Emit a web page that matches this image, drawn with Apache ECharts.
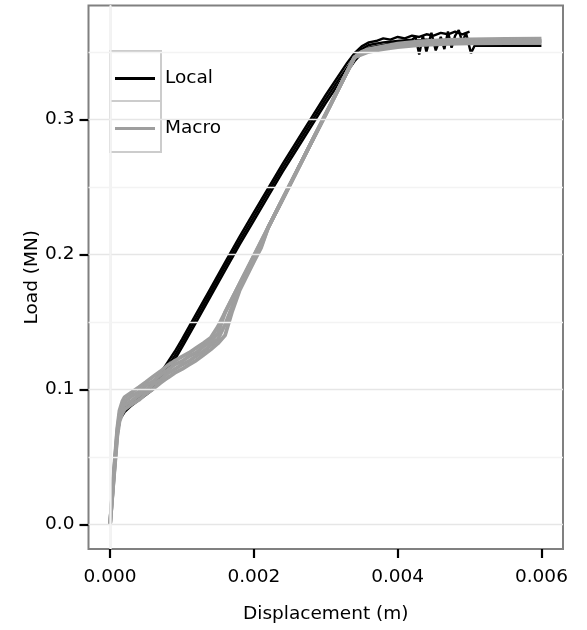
<!DOCTYPE html>
<html>
<head>
<meta charset="utf-8">
<script src="https://cdn.jsdelivr.net/npm/echarts@6/dist/echarts.min.js"></script>
<style>html,body{margin:0;padding:0;background:#fff}#c{width:587px;height:630px}</style>
</head>
<body>
<div id="c"></div>
<script>
// ---- tick labels ----
const xTicks = [0, 0.002, 0.004, 0.006];
const yTicks = [0, 0.1, 0.2, 0.3];
const xMinor = [0.001, 0.003, 0.005];
const yMinor = [0.05, 0.15, 0.25, 0.35];

// ---- Local runs (black) [displacement m, load MN] ----
const local1 = [[0,0],[0.00005,0.036],[0.0001,0.068],[0.00014,0.080],[0.0002,0.085],[0.0003,0.089],[0.0004,0.093],[0.0005,0.097],[0.0006,0.102],[0.0007,0.109],[0.0008,0.117],[0.0009,0.125],[0.001,0.134],[0.0012,0.153],[0.0014,0.172],[0.0016,0.191],[0.0018,0.210],[0.002,0.228],[0.0022,0.246],[0.0024,0.264],[0.0026,0.281],[0.0028,0.298],[0.003,0.315],[0.0032,0.331],[0.0034,0.346],[0.0035,0.352],[0.0036,0.355],[0.0038,0.357],[0.004,0.358],[0.0042,0.359],[0.00425,0.361],[0.0043,0.348],[0.00435,0.362],[0.0044,0.350],[0.00447,0.364],[0.00453,0.351],[0.0046,0.361],[0.00465,0.352],[0.0047,0.365],[0.00475,0.353],[0.0048,0.362],[0.00485,0.366],[0.0049,0.357],[0.00495,0.364],[0.00502,0.349],[0.00507,0.3545],[0.006,0.3545]];
const local2 = [[0,0],[0.00005,0.038],[0.0001,0.070],[0.00015,0.082],[0.0002,0.086],[0.0003,0.090],[0.0004,0.094],[0.0005,0.099],[0.0006,0.105],[0.0007,0.112],[0.0008,0.120],[0.0009,0.128],[0.001,0.137],[0.0012,0.156],[0.0014,0.175],[0.0016,0.194],[0.0018,0.213],[0.002,0.231],[0.0022,0.249],[0.0024,0.267],[0.0026,0.284],[0.0028,0.301],[0.003,0.318],[0.0032,0.334],[0.0033,0.342],[0.0034,0.349],[0.0035,0.354],[0.0036,0.357],[0.0037,0.358],[0.0038,0.360],[0.0039,0.359],[0.004,0.361],[0.0041,0.360],[0.0042,0.362],[0.0043,0.361],[0.0044,0.363],[0.0045,0.362],[0.0046,0.364],[0.0047,0.363],[0.0048,0.365],[0.0049,0.363],[0.005,0.365]];
const local3 = [[0,0],[0.00005,0.034],[0.0001,0.066],[0.00014,0.078],[0.0002,0.083],[0.0003,0.088],[0.0004,0.092],[0.0005,0.096],[0.0006,0.100],[0.0007,0.106],[0.0008,0.114],[0.0009,0.122],[0.001,0.131],[0.0012,0.150],[0.0014,0.169],[0.0016,0.188],[0.0018,0.207],[0.002,0.225],[0.0022,0.243],[0.0024,0.261],[0.0026,0.278],[0.0028,0.295],[0.003,0.312],[0.0032,0.328],[0.0034,0.343],[0.0035,0.349],[0.0036,0.353],[0.0038,0.355],[0.004,0.357],[0.0042,0.358],[0.0044,0.359],[0.0045,0.3585]];

// ---- Macro runs (grey) ----
const macro1 = [[0,0],[0.00005,0.037],[0.0001,0.071],[0.00013,0.084],[0.00017,0.091],[0.0002,0.0940],[0.0003,0.0977],[0.0004,0.1015],[0.0005,0.1054],[0.0006,0.1095],[0.0007,0.1133],[0.0008,0.1177],[0.0009,0.1210],[0.001,0.1242],[0.0011,0.1271],[0.0012,0.1307],[0.0013,0.1343],[0.0014,0.1382],[0.0015,0.1464],[0.0016,0.1569],[0.0018,0.1779],[0.002,0.1989],[0.0022,0.2199],[0.0024,0.2409],[0.0026,0.2619],[0.0028,0.2829],[0.003,0.3039],[0.0032,0.3249],[0.0034,0.3459],[0.0035,0.350],[0.0036,0.352],[0.0038,0.354],[0.004,0.356],[0.0043,0.3578],[0.0047,0.3588],[0.005,0.3592],[0.0055,0.3595],[0.006,0.3597]];
const macro2 = [[0,0],[0.00005,0.035],[0.0001,0.069],[0.00013,0.081],[0.00017,0.0875],[0.0002,0.0908],[0.0003,0.0949],[0.0004,0.0981],[0.0005,0.1028],[0.0006,0.1061],[0.0007,0.1107],[0.0008,0.1143],[0.0009,0.1184],[0.001,0.1208],[0.0011,0.1245],[0.0012,0.1273],[0.0013,0.1317],[0.0014,0.1353],[0.0015,0.1415],[0.0016,0.1569],[0.0018,0.1779],[0.002,0.1989],[0.0022,0.2199],[0.0024,0.2409],[0.0026,0.2619],[0.0028,0.2829],[0.003,0.3039],[0.0032,0.3249],[0.0034,0.3459],[0.0035,0.349],[0.0036,0.351],[0.0038,0.353],[0.004,0.3548],[0.0043,0.3563],[0.0047,0.3572],[0.005,0.3577],[0.0055,0.358],[0.006,0.3582]];
const macro3 = [[0,0],[0.00005,0.034],[0.0001,0.067],[0.00013,0.079],[0.00017,0.085],[0.0002,0.0882],[0.0003,0.0915],[0.0004,0.0955],[0.0005,0.0994],[0.0006,0.1035],[0.0007,0.1073],[0.0008,0.1117],[0.0009,0.1150],[0.001,0.1182],[0.0011,0.1211],[0.0012,0.1247],[0.0013,0.1283],[0.0014,0.1327],[0.0015,0.1370],[0.0016,0.1480],[0.0017,0.1615],[0.0018,0.1745],[0.002,0.1952],[0.0021,0.2060],[0.0022,0.2199],[0.0024,0.2409],[0.0026,0.2619],[0.0028,0.2829],[0.003,0.3039],[0.0032,0.3249],[0.0034,0.3459],[0.0035,0.348],[0.0036,0.350],[0.0038,0.352],[0.004,0.3535],[0.0043,0.3550],[0.0047,0.3558],[0.005,0.3562],[0.0055,0.3565],[0.006,0.3567]];
const macro4 = [[0,0],[0.00005,0.033],[0.0001,0.065],[0.00013,0.076],[0.00017,0.082],[0.0002,0.0850],[0.0003,0.0889],[0.0004,0.0921],[0.0005,0.0966],[0.0006,0.1003],[0.0007,0.1047],[0.0008,0.1085],[0.0009,0.1122],[0.001,0.1150],[0.0011,0.1183],[0.0012,0.1215],[0.0013,0.1255],[0.0014,0.1295],[0.0015,0.1340],[0.0016,0.1400],[0.0017,0.1580],[0.0018,0.1730],[0.002,0.1945],[0.0021,0.2048],[0.0022,0.2199],[0.0024,0.2409],[0.0026,0.2619],[0.0028,0.2829],[0.003,0.3039],[0.0032,0.3249],[0.0034,0.3459],[0.0035,0.3485],[0.0036,0.3505],[0.0038,0.3525],[0.004,0.3542],[0.0043,0.3556],[0.0047,0.3565],[0.005,0.3570],[0.0055,0.3573],[0.006,0.3575]];

const localRuns = [local1, local2, local3];
const macroRuns = [macro1, macro2, macro3, macro4];

const FONT = 'DejaVu Sans';
const BLACK = '#000000';
const GREY = '#9e9e9e';
const KEY_ICON = 'path://M0,0h40v3h-40z';

const chart = echarts.init(document.getElementById('c'), null, {renderer: 'canvas'});

const gridLines = [];
xTicks.forEach(v => gridLines.push({xAxis: v, lineStyle: {color: '#e6e6e6', width: 1.4, type: 'solid'}}));
yTicks.forEach(v => gridLines.push({yAxis: v, lineStyle: {color: '#e6e6e6', width: 1.4, type: 'solid'}}));
xMinor.forEach(v => gridLines.push({xAxis: v, lineStyle: {color: '#f3f3f3', width: 1.4, type: 'solid'}}));
yMinor.forEach(v => gridLines.push({yAxis: v, lineStyle: {color: '#f3f3f3', width: 1.4, type: 'solid'}}));

const series = [{
  name: 'gridlines', type: 'line', data: [], z: 1, silent: true,
  markLine: {silent: true, symbol: ['none', 'none'], label: {show: false}, animation: false, data: gridLines}
}];
localRuns.forEach(d => series.push({
  name: 'Local', type: 'line', data: d, showSymbol: false, symbol: 'none', z: 2,
  lineStyle: {color: BLACK, width: 2.4}, itemStyle: {color: BLACK}
}));
macroRuns.forEach(d => series.push({
  name: 'Macro', type: 'line', data: d, showSymbol: false, symbol: 'none', z: 3,
  lineStyle: {color: GREY, width: 3.8}, itemStyle: {color: GREY}
}));

const legendBase = {
  orient: 'vertical', left: 110, itemWidth: 40, itemHeight: 50, itemGap: 0,
  selectedMode: false, z: 10, icon: KEY_ICON, symbolKeepAspect: true,
  textStyle: {fontFamily: FONT, fontSize: 18.5, color: '#000', padding: [0, 0, 0, 5]}
};

chart.setOption({
  animation: false,
  textStyle: {fontFamily: FONT},
  grid: {left: 88.5, right: 24, top: 5.5, bottom: 81, show: true, borderColor: '#808080', borderWidth: 2, backgroundColor: '#fff', containLabel: false, outerBoundsMode: 'none'},
  xAxis: {
    type: 'value', min: -0.0003, max: 0.0063,
    name: 'Displacement (m)', nameLocation: 'middle', nameGap: 56, nameMoveOverlap: false,
    nameTextStyle: {fontFamily: FONT, fontSize: 18.5, color: '#000'},
    axisLine: {show: false, onZero: false},
    axisTick: {show: true, inside: false, length: 9, customValues: xTicks, lineStyle: {color: '#000', width: 2.2}},
    axisLabel: {customValues: xTicks, margin: 19, fontFamily: FONT, fontSize: 18.5, color: '#000', formatter: v => v.toFixed(3)},
    splitLine: {show: false}
  },
  yAxis: {
    type: 'value', min: -0.0183, max: 0.3843,
    name: 'Load (MN)', nameLocation: 'middle', nameGap: 47, nameRotate: 90, nameMoveOverlap: false,
    nameTextStyle: {fontFamily: FONT, fontSize: 18.5, color: '#000'},
    axisLine: {show: false, onZero: false},
    axisTick: {show: true, inside: false, length: 9, customValues: yTicks, lineStyle: {color: '#000', width: 2.2}},
    axisLabel: {customValues: yTicks, margin: 14, fontFamily: FONT, fontSize: 18.5, color: '#000', formatter: v => v.toFixed(1)},
    splitLine: {show: false}
  },
  legend: [
    Object.assign({}, legendBase, {data: ['Local'], top: 64}),
    Object.assign({}, legendBase, {data: ['Macro'], top: 114})
  ],
  graphic: [
    {type: 'rect', z: 5, left: 109, top: 50, shape: {width: 51, height: 50}, style: {fill: '#fff', stroke: '#cccccc', lineWidth: 2}},
    {type: 'rect', z: 5, left: 109, top: 100, shape: {width: 51, height: 51}, style: {fill: '#fff', stroke: '#cccccc', lineWidth: 2}}
  ],
  series: series
});
</script>
</body>
</html>
